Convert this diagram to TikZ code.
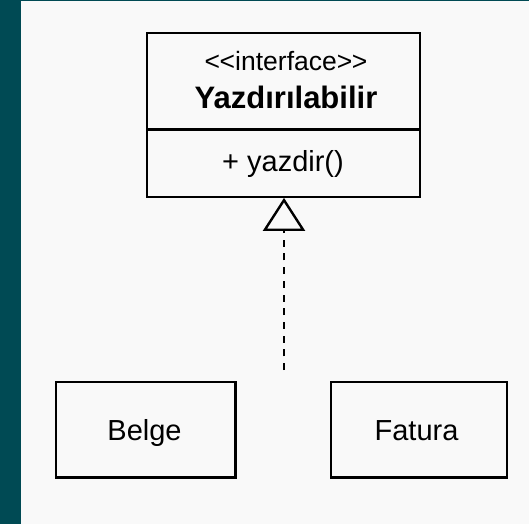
\documentclass[tikz,border=0pt]{standalone}
\usepackage{fontspec}
\setmainfont{Liberation Sans}
\usetikzlibrary{arrows.meta}
\definecolor{panel}{HTML}{F9F9F9}
\definecolor{edge}{RGB}{0,74,84}
\begin{document}
\begin{tikzpicture}[x=1pt,y=-1pt,
  box/.style={draw=black, line width=2.4pt, fill=panel, inner sep=0pt},
  lbl/.style={anchor=base, inner sep=0pt, font=\fontsize{29}{34}\selectfont},
  realize/.style={draw=black, line width=2.4pt, dash pattern=on 7pt off 6.7pt,
    -{Triangle[open, length=33pt, width=42pt, line width=2.4pt]}}]
% page background with the dark side strip
\fill[panel] (0,0) rectangle (529,524);
\fill[edge] (0,0) rectangle (20.5,524);
\fill[edge] (0,0) rectangle (529,1.5);
\useasboundingbox (0,0) rectangle (529,524);

% interface: name compartment and operation compartment
\node[box, minimum width=272.7pt, minimum height=96pt] (head) at (283.6,81.3) {};
\node[box, minimum width=272.7pt, minimum height=67.4pt] (body) at (283.6,163) {};
\node[lbl, font=\fontsize{26.5}{30}\selectfont] (stereo) at (286,71)
  {\textless\kern-0.5pt\textless interface\textgreater\kern-0.5pt\textgreater};
\node[lbl, font=\fontsize{31}{35}\selectfont\bfseries] (iname) at (286,109) {Yazdırılabilir};
\node[lbl] (op) at (283,171) {+ yazdir()};

% classes
\node[box, minimum width=179.5pt, minimum height=95.5pt] (belge) at (145.75,429.75) {};
\node[lbl] (belgetxt) at (144.5,440) {Belge};
\node[box, minimum width=176pt, minimum height=95.5pt] (fatura) at (419,429.75) {};
\node[lbl] (faturatxt) at (416.5,440) {Fatura};

% realization arrow
\coordinate (tail) at (284,370);
\draw[realize] (tail) -- (tail |- body.south);
\end{tikzpicture}
\end{document}
